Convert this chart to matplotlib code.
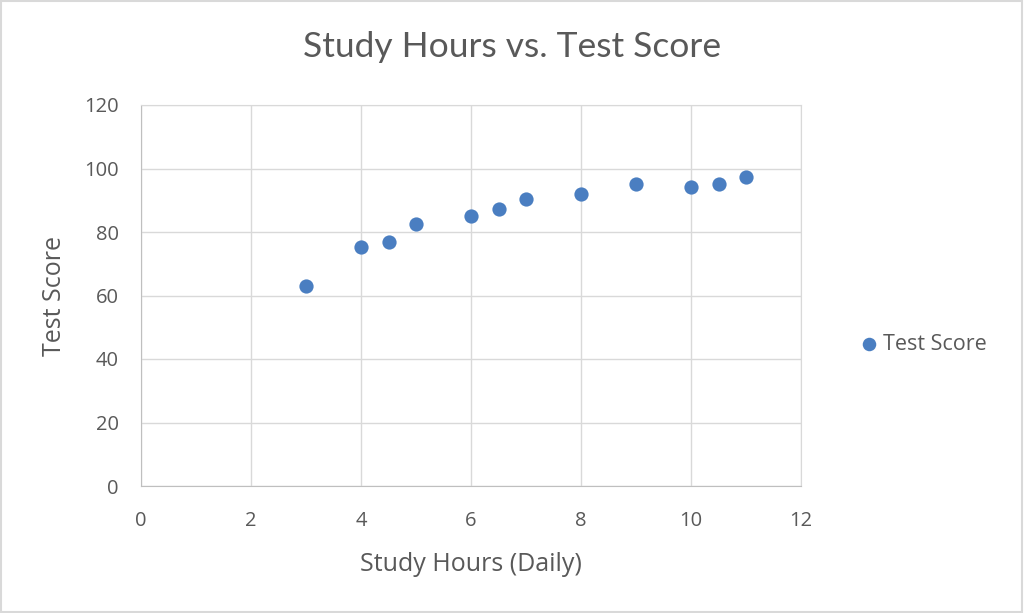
import matplotlib.pyplot as plt

hours = [3, 4, 4.5, 5, 6, 6.5, 7, 8, 9, 10, 10.5, 11]
scores = [63, 75.4, 76.9, 82.4, 85, 87.1, 90.4, 92, 95.2, 94.2, 95.2, 97.4]
x_ticks = [0, 2, 4, 6, 8, 10, 12]
y_ticks = [0, 20, 40, 60, 80, 100, 120]

plt.rcParams['font.family'] = ['Open Sans', 'DejaVu Sans']
text_col = '#595959'
grid_col = '#d9d9d9'

fig = plt.figure(figsize=(10.24, 6.13), dpi=100)
ax = fig.add_axes([141/1024, 1 - 486/613, 660/1024, 381/613])

ax.scatter(hours, scores, s=105, color='#4a7ec1', zorder=3, label='Test Score', linewidths=0)

ax.set_xlim(0, 12)
ax.set_ylim(0, 120)
ax.set_xticks(x_ticks)
ax.set_yticks(y_ticks)
ax.grid(True, color=grid_col, linewidth=1)
ax.set_axisbelow(True)
for sp in ax.spines.values():
    sp.set_color(grid_col)
ax.spines['bottom'].set_color('#bfbfbf')
ax.spines['left'].set_color('#bfbfbf')
ax.tick_params(length=0, labelsize=14.5, labelcolor=text_col)
ax.tick_params(axis='x', pad=18)
ax.tick_params(axis='y', pad=16)

ax.set_xlabel('Study Hours (Daily)', fontsize=18, color=text_col, labelpad=15)
ax.set_ylabel('Test Score', fontsize=18, color=text_col, labelpad=12)
fig.text(0.5, 1 - 47/613, 'Study Hours vs. Test Score', ha='center', va='center',
         fontsize=25.5, color=text_col, family=['Lato', 'DejaVu Sans'])

fig.legend(loc='center left', bbox_to_anchor=(839/1024, 1 - 344/613), frameon=False,
           fontsize=15.5, labelcolor=text_col, handlelength=1, handletextpad=0.15,
           markerscale=0.95)

# thin light frame around the whole picture
fig.patches.append(plt.Rectangle((0.001, 0.002), 0.997, 0.996, transform=fig.transFigure,
                                 fill=False, edgecolor='#d9d9d9', linewidth=1.5))

fig.savefig('out.png', dpi=100)
